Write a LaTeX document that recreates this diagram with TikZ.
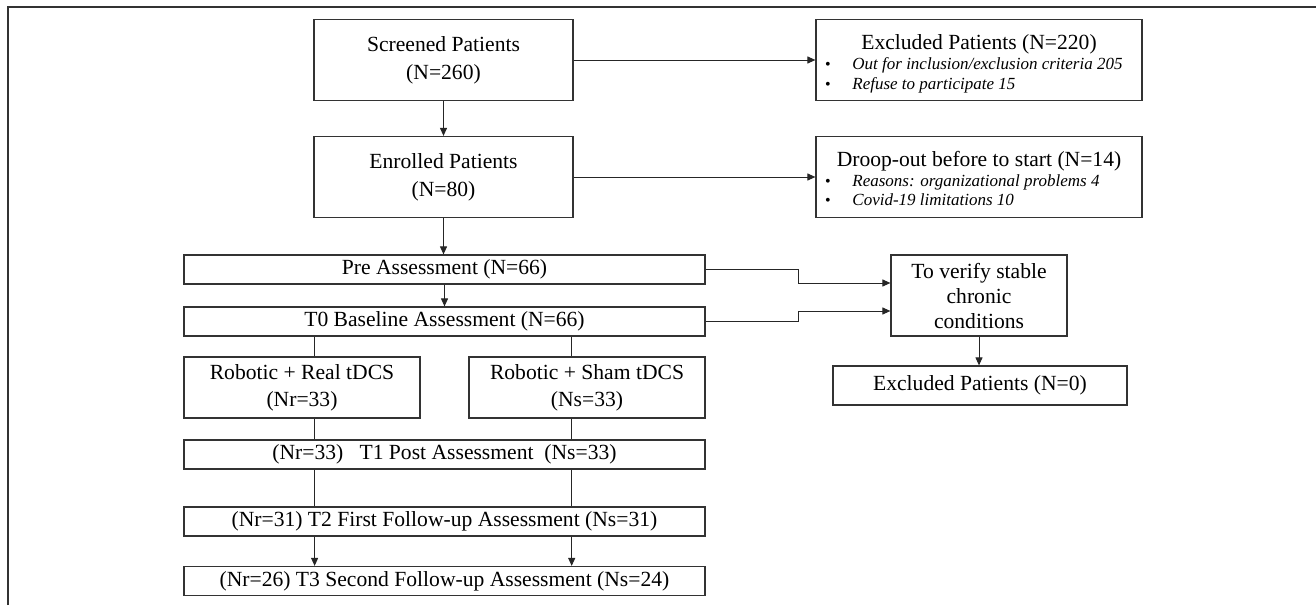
\documentclass[tikz,border=0pt]{standalone}
\usepackage{fontspec}
\setmainfont{Liberation Serif}
\usetikzlibrary{arrows.meta}
\begin{document}
\begin{tikzpicture}[x=0.5pt,y=-0.5pt,
  box/.style={draw=black!80, line width=0.6pt, inner sep=0pt, align=center, font=\fontsize{10.8}{14}\selectfont},
  lbl/.style={inner sep=0pt, anchor=base, font=\fontsize{10.8}{13}\selectfont},
  itm/.style={inner sep=0pt, anchor=base west, font=\fontsize{8.5}{10}\selectfont\itshape},
  bul/.style={inner sep=0pt, anchor=base, font=\fontsize{8}{10}\selectfont},
  con/.style={draw=black!85, line width=0.5pt},
  arr/.style={con, -{Triangle[length=4pt,width=3.5pt]}}
]
\useasboundingbox (0,0) rectangle (1316,605);
% outer frame (top and left edges visible)
\draw[black!80, line width=1pt] (7.5,605) -- (7.5,6.5) -- (1316,6.5);

% main column
\node[box, minimum width=129.5pt, minimum height=40.5pt] (scr) at (443.5,60) {Screened Patients\\(N=260)};
\node[box, minimum width=129.5pt, minimum height=40.5pt] (enr) at (443.5,177) {Enrolled Patients\\(N=80)};

% excluded box
\node[box, minimum width=163pt, minimum height=40.5pt] (exc) at (979,60) {};
\node[lbl] (exch) at (979,49) {Excluded Patients (N=220)};
\node[bul] (excb1) at (828,69) {•};
\node[itm] (exci1) at (852,69) {Out for inclusion/exclusion criteria 205};
\node[bul] (excb2) at (828,89) {•};
\node[itm] (exci2) at (852,89) {Refuse to participate 15};

% drop-out box
\node[box, minimum width=163pt, minimum height=40.5pt] (drp) at (979,177) {};
\node[lbl] (drph) at (979,166) {Droop-out before to start (N=14)};
\node[bul] (drpb1) at (828,186) {•};
\node[itm] (drpi1) at (852,186) {Reasons: organizational problems 4};
\node[bul] (drpb2) at (828,205.5) {•};
\node[itm] (drpi2) at (852,205.5) {Covid-19 limitations 10};

% assessments
\node[box, minimum width=260.5pt, minimum height=14.5pt] (pre) at (444.5,269.5) {Pre Assessment (N=66)};
\node[box, minimum width=260.5pt, minimum height=14.5pt] (t0) at (444.5,321.5) {T0 Baseline Assessment (N=66)};
\node[box, minimum width=118pt, minimum height=30.5pt, font=\fontsize{10.8}{13.5}\selectfont] (rr) at (302,387.5) {Robotic + Real tDCS\\(Nr=33)};
\node[box, minimum width=118pt, minimum height=30.5pt, font=\fontsize{10.8}{13.5}\selectfont] (rs) at (587,387.5) {Robotic + Sham tDCS\\(Ns=33)};
\node[box, minimum width=260.5pt, minimum height=14.5pt] (t1) at (444.5,454.5) {(Nr=33)\ \ \ T1 Post Assessment\ \ (Ns=33)};
\node[box, minimum width=260.5pt, minimum height=14.5pt] (t2) at (444.5,521.5) {(Nr=31) T2 First Follow-up Assessment (Ns=31)};
\node[box, minimum width=260.5pt, minimum height=14.5pt] (t3) at (444.5,581) {(Nr=26) T3 Second Follow-up Assessment (Ns=24)};

% right column
\node[box, minimum width=88pt, minimum height=40.5pt, font=\fontsize{10.8}{12.5}\selectfont] (ver) at (979,295.5) {To verify stable\\chronic\\conditions};
\node[box, minimum width=147pt, minimum height=19.5pt] (ex0) at (980,385.5) {Excluded Patients (N=0)};

% connectors
\coordinate (cL) at (314.6,0);
\coordinate (cR) at (571.7,0);
\coordinate (cM) at (798,0);
\coordinate (va) at ([yshift=6.25pt]ver.west);
\coordinate (vb) at ([yshift=-7.75pt]ver.west);

\draw[arr] (scr) -- (enr);
\draw[arr] (scr) -- (exc);
\draw[arr] (enr) -- (drp);
\draw[arr] (enr.south) -- (enr.south |- pre.north);
\draw[arr] (pre) -- (t0);
\draw[con] (t0.south -| cL) -- (rr.north -| cL);
\draw[con] (t0.south -| cR) -- (rs.north -| cR);
\draw[con] (rr.south -| cL) -- (t1.north -| cL);
\draw[con] (rs.south -| cR) -- (t1.north -| cR);
\draw[con] (t1.south -| cL) -- (t2.north -| cL);
\draw[con] (t1.south -| cR) -- (t2.north -| cR);
\draw[arr] (t2.south -| cL) -- (t3.north -| cL);
\draw[arr] (t2.south -| cR) -- (t3.north -| cR);
\draw[arr] (pre.east) -- (pre.east -| cM) -- (cM |- va) -- (va);
\draw[arr] (t0.east) -- (t0.east -| cM) -- (cM |- vb) -- (vb);
\draw[arr] (ver.south) -- (ver.south |- ex0.north);
\end{tikzpicture}
\end{document}
